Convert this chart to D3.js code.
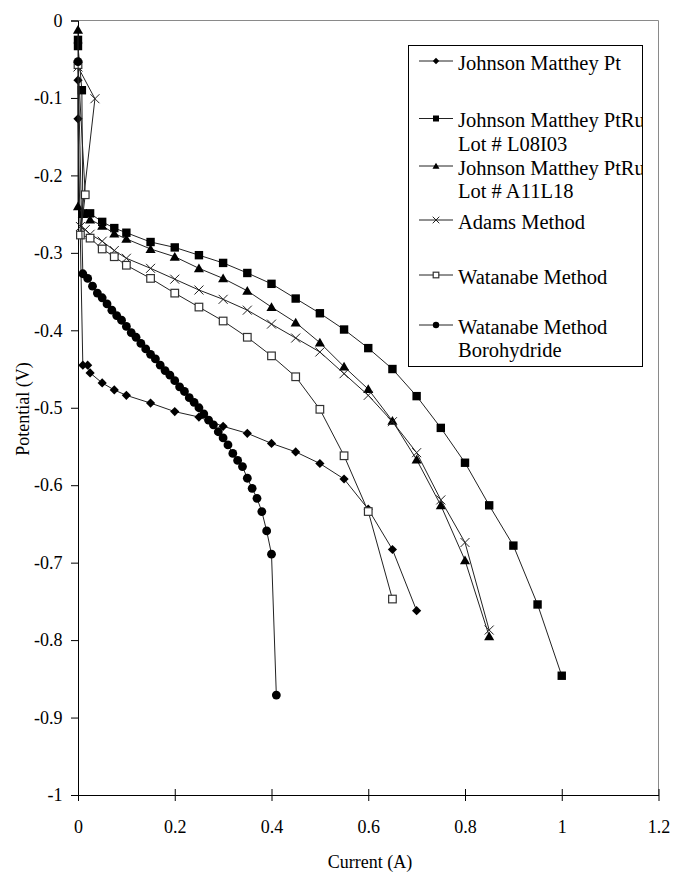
<!DOCTYPE html>
<html>
<head>
<meta charset="utf-8">
<script src="https://cdn.jsdelivr.net/npm/d3@7"></script>
<style>
  html, body { margin: 0; padding: 0; background: #fff; }
  svg { display: block; }
  text { font-family: "Liberation Serif", "Times New Roman", serif; fill: #000; }
</style>
</head>
<body>
<svg id="chart" width="673" height="872"></svg>
<script>
// Polarization curves: current (A) vs. cell potential (V)
const ptData = [[0,-0.077],[0,-0.127],[0.01,-0.445],[0.02,-0.445],[0.025,-0.455],[0.05,-0.468],[0.075,-0.477],[0.1,-0.484],[0.15,-0.494],[0.2,-0.505],[0.25,-0.512],[0.3,-0.524],[0.35,-0.533],[0.4,-0.546],[0.45,-0.557],[0.5,-0.572],[0.55,-0.592],[0.6,-0.631],[0.65,-0.683],[0.7,-0.762]];
const ptRuL08Data = [[0,-0.025],[0,-0.033],[0.008,-0.09],[0.01,-0.249],[0.025,-0.249],[0.05,-0.26],[0.075,-0.268],[0.1,-0.274],[0.15,-0.286],[0.2,-0.293],[0.25,-0.303],[0.3,-0.313],[0.35,-0.326],[0.4,-0.34],[0.45,-0.359],[0.5,-0.378],[0.55,-0.399],[0.6,-0.423],[0.65,-0.45],[0.7,-0.485],[0.75,-0.526],[0.8,-0.571],[0.85,-0.626],[0.9,-0.678],[0.95,-0.754],[1.0,-0.846]];
const ptRuA11Data = [[0,-0.012],[0,-0.24],[0.01,-0.25],[0.025,-0.257],[0.05,-0.265],[0.075,-0.275],[0.1,-0.282],[0.15,-0.295],[0.2,-0.305],[0.25,-0.32],[0.3,-0.333],[0.35,-0.349],[0.4,-0.37],[0.45,-0.39],[0.5,-0.416],[0.55,-0.447],[0.6,-0.476],[0.65,-0.517],[0.7,-0.567],[0.75,-0.626],[0.8,-0.697],[0.85,-0.795]];
const adamsData = [[0,-0.06],[0.035,-0.101],[0.005,-0.266],[0.015,-0.27],[0.025,-0.276],[0.05,-0.285],[0.075,-0.297],[0.1,-0.307],[0.15,-0.32],[0.2,-0.334],[0.25,-0.348],[0.3,-0.36],[0.35,-0.374],[0.4,-0.392],[0.45,-0.41],[0.5,-0.428],[0.55,-0.456],[0.6,-0.484],[0.65,-0.518],[0.7,-0.558],[0.75,-0.619],[0.8,-0.674],[0.85,-0.787]];
const watanabeData = [[0,-0.057],[0.015,-0.225],[0.005,-0.277],[0.025,-0.281],[0.05,-0.295],[0.075,-0.305],[0.1,-0.316],[0.15,-0.333],[0.2,-0.352],[0.25,-0.37],[0.3,-0.388],[0.35,-0.409],[0.4,-0.433],[0.45,-0.46],[0.5,-0.502],[0.55,-0.562],[0.6,-0.634],[0.65,-0.747]];
const boroData = [[0,-0.053],[0.01,-0.327],[0.02,-0.333],[0.03,-0.343],[0.04,-0.352],[0.05,-0.358],[0.06,-0.366],[0.07,-0.374],[0.08,-0.381],[0.09,-0.387],[0.1,-0.395],[0.11,-0.403],[0.12,-0.409],[0.13,-0.417],[0.14,-0.424],[0.15,-0.431],[0.16,-0.437],[0.17,-0.445],[0.18,-0.452],[0.19,-0.458],[0.2,-0.465],[0.21,-0.473],[0.22,-0.479],[0.23,-0.487],[0.24,-0.493],[0.25,-0.5],[0.26,-0.508],[0.27,-0.516],[0.28,-0.522],[0.29,-0.531],[0.3,-0.539],[0.31,-0.548],[0.32,-0.559],[0.33,-0.568],[0.34,-0.576],[0.35,-0.591],[0.36,-0.604],[0.37,-0.617],[0.38,-0.634],[0.39,-0.659],[0.4,-0.689],[0.41,-0.871]];

const xTicks = [0, 0.2, 0.4, 0.6, 0.8, 1, 1.2];
const yTicks = [0, -0.1, -0.2, -0.3, -0.4, -0.5, -0.6, -0.7, -0.8, -0.9, -1];

const seriesNames = [
  ["Johnson Matthey Pt"],
  ["Johnson Matthey PtRu", "Lot # L08I03"],
  ["Johnson Matthey PtRu", "Lot # A11L18"],
  ["Adams Method"],
  ["Watanabe Method"],
  ["Watanabe Method", "Borohydride"]
];
const seriesData = [ptData, ptRuL08Data, ptRuA11Data, adamsData, watanabeData, boroData];
const seriesMarkers = ["diamond", "square", "triangle", "cross", "openSquare", "circle"];

const SERIF = "Liberation Serif, Times New Roman, serif";
const svg = d3.select("#chart");
const plot = { left: 78, top: 20.5, right: 658.5, bottom: 795 };

const x = d3.scaleLinear().domain([0, 1.2]).range([plot.left, plot.right]);
const y = d3.scaleLinear().domain([-1, 0]).range([plot.bottom, plot.top]);

// Plot-area frame (top and right edges in grey)
svg.append("path")
  .attr("d", `M${plot.left},${plot.top}H${plot.right}V${plot.bottom}`)
  .attr("fill", "none").attr("stroke", "#8a8a8a").attr("stroke-width", 1);

const fmt = d => String(+d.toFixed(1));

// Y axis
const yAxis = svg.append("g")
  .attr("transform", `translate(${plot.left},0)`)
  .call(d3.axisLeft(y).tickValues(yTicks).tickFormat(fmt).tickSize(7).tickPadding(8.5));
yAxis.attr("font-family", SERIF);
yAxis.select(".domain").attr("stroke", "#000");
yAxis.selectAll(".tick line").attr("stroke", "#000");
yAxis.selectAll("text").attr("font-size", 18).attr("font-family", SERIF);

// X axis (ticks cross the axis line)
const xAxis = svg.append("g")
  .attr("transform", `translate(0,${plot.bottom})`)
  .call(d3.axisBottom(x).tickValues(xTicks).tickFormat(fmt).tickSize(6).tickSizeOuter(0));
xAxis.attr("font-family", SERIF);
xAxis.select(".domain").attr("stroke", "#000");
xAxis.selectAll(".tick line").attr("stroke", "#000").attr("y1", -6).attr("y2", 6);
xAxis.selectAll("text").attr("font-size", 18).attr("font-family", SERIF)
  .attr("y", 38).attr("dy", 0);

// Axis titles
svg.append("text")
  .attr("transform", "translate(29,409) rotate(-90)")
  .attr("text-anchor", "middle")
  .attr("font-family", SERIF)
  .attr("font-size", 18)
  .text("Potential (V)");
svg.append("text")
  .attr("x", 370).attr("y", 868)
  .attr("text-anchor", "middle")
  .attr("font-family", SERIF)
  .attr("font-size", 18)
  .text("Current (A)");

// Marker drawing
function drawMarker(g, type, cx, cy, s) {
  switch (type) {
    case "diamond":
      g.append("path").attr("d", `M${cx},${cy - s}L${cx + s},${cy}L${cx},${cy + s}L${cx - s},${cy}Z`).attr("fill", "#000");
      break;
    case "square":
      g.append("rect").attr("x", cx - s).attr("y", cy - s).attr("width", 2 * s).attr("height", 2 * s).attr("fill", "#000");
      break;
    case "triangle":
      g.append("path").attr("d", `M${cx},${cy - s * 1.05}L${cx + s * 1.1},${cy + s * 0.85}L${cx - s * 1.1},${cy + s * 0.85}Z`).attr("fill", "#000");
      break;
    case "cross":
      g.append("path").attr("d", `M${cx - s},${cy - s}L${cx + s},${cy + s}M${cx - s},${cy + s}L${cx + s},${cy - s}`)
        .attr("stroke", "#222").attr("stroke-width", 1).attr("fill", "none");
      break;
    case "openSquare":
      g.append("rect").attr("x", cx - s + 0.5).attr("y", cy - s + 0.5).attr("width", 2 * s - 1).attr("height", 2 * s - 1)
        .attr("fill", "#fff").attr("stroke", "#333").attr("stroke-width", 1.2);
      break;
    case "circle":
      g.append("circle").attr("cx", cx).attr("cy", cy).attr("r", s).attr("fill", "#000");
      break;
  }
}
const markerSize = { diamond: 4.6, square: 4.2, triangle: 4.6, cross: 4.5, openSquare: 4.3, circle: 4.4 };

const line = d3.line().x(d => x(d[0])).y(d => y(d[1]));

seriesData.forEach((data, i) => {
  const g = svg.append("g");
  g.append("path").attr("d", line(data))
    .attr("fill", "none").attr("stroke", "#222").attr("stroke-width", 1);
  data.forEach(d => drawMarker(g, seriesMarkers[i], x(d[0]), y(d[1]), markerSize[seriesMarkers[i]]));
});

// Legend
const legend = { x: 408.5, y: 45.5, w: 234, h: 321 };
svg.append("clipPath").attr("id", "legclip")
  .append("rect").attr("x", legend.x).attr("y", legend.y).attr("width", legend.w).attr("height", legend.h);
const lg = svg.append("g");
lg.append("rect").attr("x", legend.x).attr("y", legend.y).attr("width", legend.w).attr("height", legend.h)
  .attr("fill", "#fff").attr("stroke", "#000").attr("stroke-width", 1);
const legendMarkerY = [61, 118.5, 166, 220, 275, 325];
const legendSmall = { diamond: 3.2, square: 3, triangle: 3.2, cross: 3.3, openSquare: 3.3, circle: 3.2 };
const lgText = lg.append("g").attr("clip-path", "url(#legclip)");
seriesNames.forEach((lines, i) => {
  const cy = legendMarkerY[i];
  lg.append("line").attr("x1", 419).attr("x2", 453).attr("y1", cy).attr("y2", cy)
    .attr("stroke", "#222").attr("stroke-width", 1);
  drawMarker(lg, seriesMarkers[i], 436, cy, legendSmall[seriesMarkers[i]]);
  lines.forEach((t, k) => {
    lgText.append("text").attr("x", 458).attr("y", cy + 8.5 + k * 23.8)
      .attr("font-family", SERIF)
      .attr("font-size", 20.5).text(t);
  });
});
</script>
</body>
</html>
